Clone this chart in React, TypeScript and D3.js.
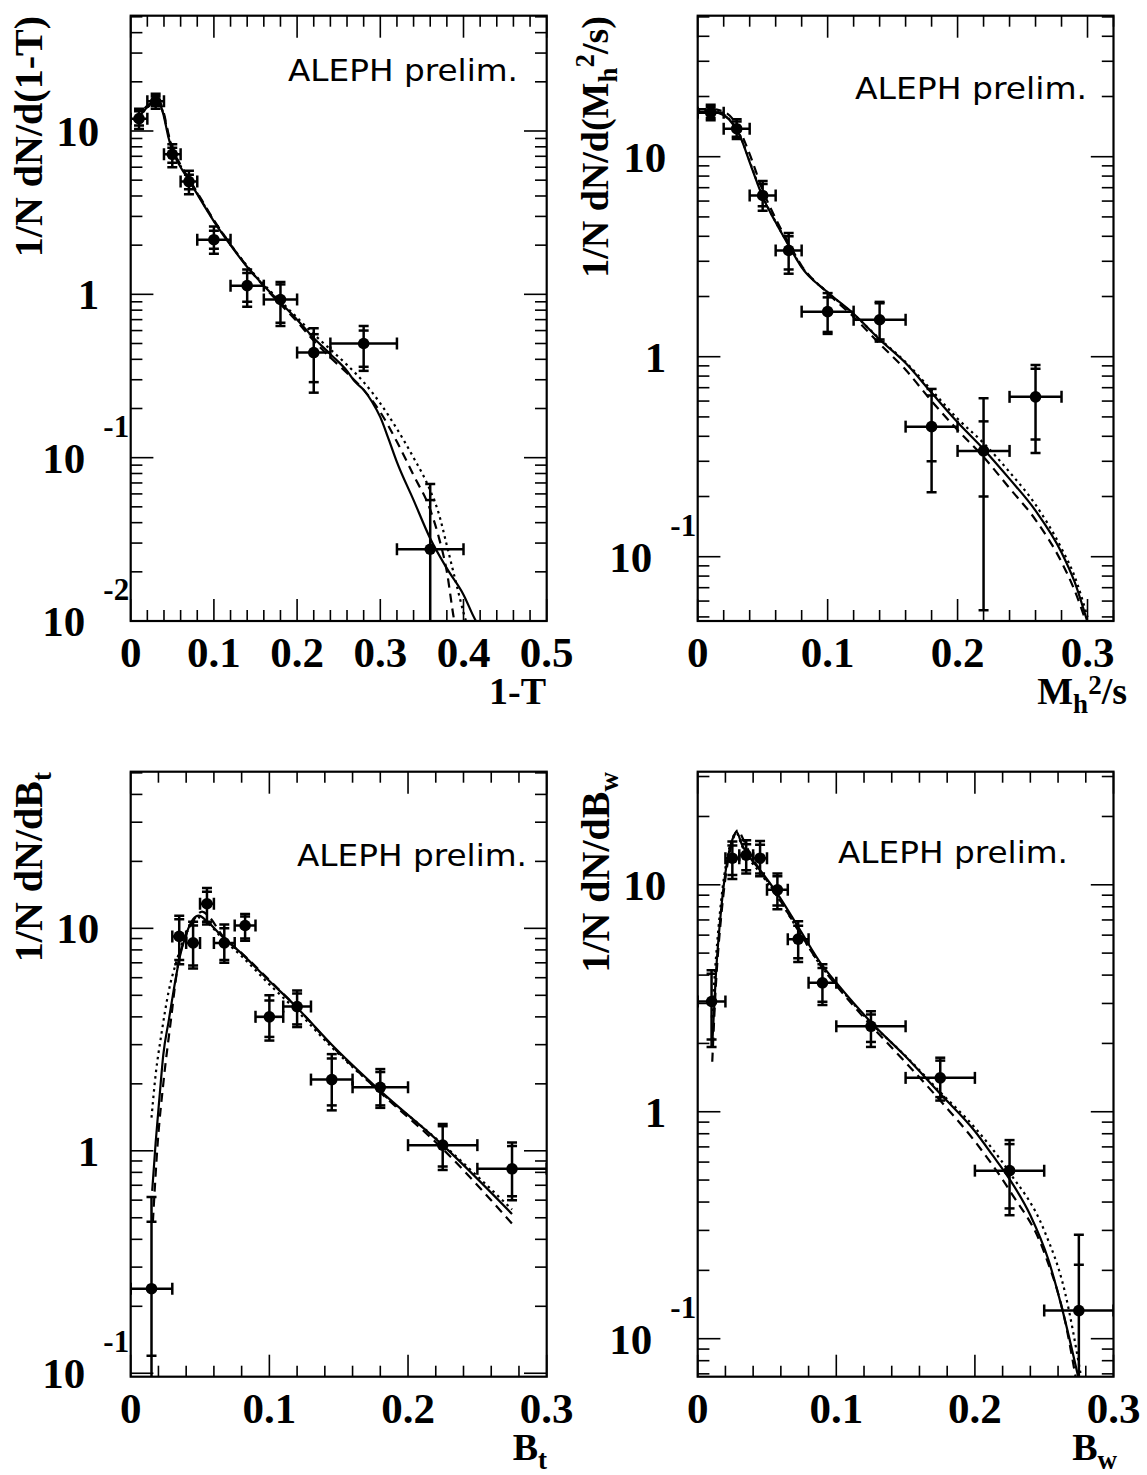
import React from 'react';
import * as d3 from 'd3';

// ---------- DATA ----------
// point rows: [x, xLo, xHi, y, totLo, totHi, statLo, statHi]
const thrustPoints = [
  [0.01, 0.0, 0.02, 11.9, 10.3, 13.7, 10.8, 13.2],
  [0.03, 0.02, 0.04, 15.2, 13.7, 16.9, 14.2, 16.3],
  [0.05, 0.04, 0.06, 7.2, 6.0, 8.3, 6.4, 7.9],
  [0.07, 0.06, 0.08, 4.9, 4.1, 5.7, 4.4, 5.4],
  [0.10, 0.08, 0.12, 2.16, 1.77, 2.6, 1.9, 2.45],
  [0.14, 0.12, 0.16, 1.13, 0.84, 1.42, 0.9, 1.35],
  [0.18, 0.16, 0.20, 0.93, 0.64, 1.19, 0.67, 1.15],
  [0.22, 0.20, 0.24, 0.44, 0.25, 0.62, 0.29, 0.57],
  [0.28, 0.24, 0.32, 0.50, 0.34, 0.64, 0.36, 0.60],
  [0.36, 0.32, 0.40, 0.0275, 0.001, 0.069, 0.005, 0.055],
];
const thrustSolid = [
  [0.004, 11.6], [0.01, 12.3], [0.02, 14.0], [0.03, 15.0], [0.035, 14.6], [0.04, 12.2], [0.045, 9.3],
  [0.05, 7.6], [0.06, 6.0], [0.07, 5.0], [0.08, 4.1], [0.1, 2.8], [0.12, 2.0], [0.14, 1.47], [0.16, 1.13],
  [0.18, 0.89], [0.2, 0.7], [0.22, 0.54], [0.24, 0.43], [0.26, 0.34], [0.27, 0.29], [0.28, 0.26],
  [0.29, 0.22], [0.3, 0.177], [0.31, 0.13], [0.32, 0.094], [0.34, 0.055], [0.36, 0.032], [0.38, 0.021],
  [0.4, 0.0145], [0.415, 0.01], [0.42, 0.0092],
];
const thrustDashed = [
  [0.004, 11.8], [0.01, 12.5], [0.02, 14.3], [0.03, 15.3], [0.035, 15.0], [0.04, 12.8], [0.045, 9.8],
  [0.05, 7.9], [0.06, 6.2], [0.07, 5.1], [0.08, 4.2], [0.1, 2.85], [0.12, 2.02], [0.14, 1.48], [0.16, 1.12],
  [0.18, 0.87], [0.2, 0.68], [0.22, 0.52], [0.24, 0.41], [0.26, 0.33], [0.28, 0.26], [0.3, 0.19],
  [0.32, 0.125], [0.34, 0.078], [0.36, 0.048], [0.37, 0.033], [0.38, 0.02], [0.389, 0.01], [0.392, 0.0085],
];
const thrustDotted = [
  [0.004, 11.5], [0.01, 12.2], [0.02, 13.9], [0.03, 14.9], [0.035, 14.5], [0.04, 12.4], [0.045, 9.6],
  [0.05, 7.8], [0.06, 6.1], [0.07, 5.05], [0.08, 4.15], [0.1, 2.82], [0.12, 2.02], [0.14, 1.49], [0.16, 1.15],
  [0.18, 0.91], [0.2, 0.72], [0.22, 0.57], [0.24, 0.46], [0.26, 0.37], [0.28, 0.29], [0.3, 0.215],
  [0.32, 0.15], [0.34, 0.1], [0.36, 0.063], [0.37, 0.046], [0.38, 0.029], [0.39, 0.018], [0.403, 0.01], [0.406, 0.009],
];
const thrustXTicks = [0, 0.1, 0.2, 0.3, 0.4, 0.5];

const mhPoints = [
  [0.01, 0.0, 0.02, 16.6, 15.2, 18.2, 15.6, 17.7],
  [0.03, 0.02, 0.04, 13.8, 12.25, 15.4, 12.6, 15.0],
  [0.05, 0.04, 0.06, 6.4, 5.37, 7.55, 5.65, 7.3],
  [0.07, 0.06, 0.08, 3.4, 2.6, 4.16, 2.73, 4.0],
  [0.10, 0.08, 0.12, 1.68, 1.3, 2.08, 1.33, 1.98],
  [0.14, 0.12, 0.16, 1.53, 1.19, 1.88, 1.22, 1.85],
  [0.18, 0.16, 0.20, 0.447, 0.21, 0.69, 0.3, 0.64],
  [0.22, 0.20, 0.24, 0.338, 0.054, 0.62, 0.2, 0.475],
  [0.26, 0.24, 0.28, 0.63, 0.33, 0.91, 0.385, 0.87],
];
const mhSolid = [
  [0.0, 16.8], [0.01, 16.8], [0.0155, 16.6], [0.024, 15.4], [0.032, 12.9], [0.041, 9.0], [0.05, 6.3],
  [0.06, 4.7], [0.07, 3.6], [0.08, 2.8], [0.1, 2.1], [0.12, 1.64], [0.14, 1.22], [0.16, 0.93],
  [0.18, 0.66], [0.2, 0.47], [0.22, 0.345], [0.24, 0.245], [0.26, 0.17], [0.28, 0.105], [0.29, 0.075], [0.3, 0.047],
];
const mhDashed = [
  [0.0, 17.3], [0.01, 17.3], [0.02, 16.8], [0.03, 14.5], [0.04, 10.3], [0.05, 6.8], [0.06, 4.9],
  [0.07, 3.7], [0.08, 2.85], [0.1, 2.08], [0.12, 1.58], [0.14, 1.16], [0.16, 0.86], [0.18, 0.6],
  [0.2, 0.43], [0.22, 0.315], [0.24, 0.22], [0.26, 0.153], [0.28, 0.094], [0.29, 0.068], [0.3, 0.045],
];
const mhDotted = [
  [0.0, 16.9], [0.01, 16.9], [0.0155, 16.7], [0.024, 15.5], [0.032, 13.0], [0.041, 9.1], [0.05, 6.35],
  [0.06, 4.72], [0.07, 3.62], [0.08, 2.82], [0.1, 2.1], [0.12, 1.63], [0.14, 1.23], [0.16, 0.94],
  [0.18, 0.68], [0.2, 0.49], [0.22, 0.37], [0.24, 0.265], [0.26, 0.182], [0.28, 0.11], [0.29, 0.08], [0.3, 0.05],
];
const mhXTicks = [0, 0.1, 0.2, 0.3];

const btPoints = [
  [0.015, 0.0, 0.03, 0.24, 0.08, 0.62, 0.12, 0.48],
  [0.035, 0.03, 0.04, 9.2, 6.9, 11.4, 7.2, 11.0],
  [0.045, 0.04, 0.05, 8.6, 6.6, 10.7, 6.8, 10.3],
  [0.055, 0.05, 0.06, 12.9, 10.4, 15.2, 10.7, 14.6],
  [0.0675, 0.06, 0.075, 8.6, 7.0, 10.4, 7.2, 10.0],
  [0.0825, 0.075, 0.09, 10.3, 8.8, 11.6, 9.0, 11.3],
  [0.10, 0.09, 0.11, 4.0, 3.13, 5.0, 3.25, 4.74],
  [0.12, 0.11, 0.13, 4.45, 3.6, 5.25, 3.7, 5.1],
  [0.145, 0.13, 0.16, 2.09, 1.52, 2.72, 1.6, 2.6],
  [0.18, 0.16, 0.20, 1.93, 1.56, 2.33, 1.6, 2.26],
  [0.225, 0.20, 0.25, 1.06, 0.82, 1.32, 0.85, 1.29],
  [0.275, 0.25, 0.30, 0.83, 0.6, 1.09, 0.625, 1.05],
];
const btSolid = [
  [0.0155, 0.66], [0.018, 1.09], [0.021, 1.81], [0.0235, 2.7], [0.0275, 3.87], [0.0315, 5.5],
  [0.0355, 7.5], [0.0395, 9.2], [0.045, 11.0], [0.049, 11.4], [0.0555, 10.7], [0.066, 9.2],
  [0.08, 7.7], [0.1, 5.8], [0.12, 4.4], [0.145, 3.0], [0.18, 1.86], [0.225, 1.06], [0.275, 0.52],
];
const btDashed = [
  [0.016, 0.48], [0.0195, 1.09], [0.0235, 2.0], [0.029, 3.87], [0.034, 6.8], [0.0395, 9.2],
  [0.045, 10.8], [0.0515, 11.9], [0.057, 11.2], [0.066, 9.3], [0.08, 7.75], [0.1, 5.85],
  [0.12, 4.4], [0.145, 2.97], [0.18, 1.83], [0.225, 1.02], [0.275, 0.47],
];
const btDotted = [
  [0.015, 1.41], [0.018, 2.2], [0.022, 3.3], [0.0275, 5.25], [0.033, 7.1], [0.039, 9.2],
  [0.045, 10.7], [0.049, 11.2], [0.0555, 10.6], [0.066, 9.0], [0.08, 7.5], [0.1, 5.6],
  [0.12, 4.25], [0.145, 2.92], [0.18, 1.84], [0.225, 1.07], [0.275, 0.545],
];
const btXTicks = [0, 0.1, 0.2, 0.3];

const bwPoints = [
  [0.01, 0.0, 0.02, 3.06, 1.93, 4.2, 2.08, 4.06],
  [0.025, 0.02, 0.03, 13.1, 10.6, 15.5, 11.05, 14.9],
  [0.035, 0.03, 0.04, 13.5, 11.2, 15.7, 11.6, 15.1],
  [0.045, 0.04, 0.05, 13.1, 10.9, 15.6, 11.2, 15.0],
  [0.0575, 0.05, 0.065, 9.5, 7.8, 11.2, 8.1, 10.9],
  [0.0725, 0.065, 0.08, 5.76, 4.57, 6.9, 4.75, 6.6],
  [0.09, 0.08, 0.10, 3.7, 2.95, 4.46, 3.05, 4.3],
  [0.125, 0.10, 0.15, 2.38, 1.93, 2.77, 2.03, 2.68],
  [0.175, 0.15, 0.20, 1.41, 1.12, 1.73, 1.16, 1.68],
  [0.225, 0.20, 0.25, 0.55, 0.35, 0.75, 0.375, 0.72],
  [0.275, 0.25, 0.30, 0.133, 0.03, 0.287, 0.05, 0.212],
];
const bwSolid = [
  [0.0106, 2.03], [0.013, 3.9], [0.017, 7.9], [0.021, 12.4], [0.025, 15.8], [0.028, 17.1],
  [0.0318, 15.1], [0.0384, 13.0], [0.0455, 11.5], [0.0577, 9.1], [0.0733, 6.4], [0.09, 4.4],
  [0.1, 3.7], [0.125, 2.48], [0.15, 1.75], [0.175, 1.2], [0.2, 0.82], [0.213, 0.64],
  [0.2245, 0.51], [0.24, 0.35], [0.253, 0.223], [0.263, 0.135], [0.275, 0.066],
];
const bwDashed = [
  [0.0105, 1.66], [0.013, 3.5], [0.017, 7.3], [0.021, 11.8], [0.025, 15.5], [0.029, 17.4],
  [0.033, 15.8], [0.038, 13.6], [0.045, 11.6], [0.0577, 8.9], [0.0733, 6.2], [0.09, 4.3],
  [0.1, 3.6], [0.125, 2.4], [0.15, 1.65], [0.175, 1.12], [0.2, 0.74], [0.225, 0.45],
  [0.25, 0.24], [0.265, 0.12], [0.273, 0.066],
];
const bwDotted = [
  [0.0102, 2.6], [0.013, 4.6], [0.017, 8.6], [0.021, 12.9], [0.025, 16.0], [0.028, 16.9],
  [0.0318, 14.9], [0.0384, 12.7], [0.0455, 11.2], [0.0577, 8.8], [0.0733, 6.2], [0.09, 4.3],
  [0.1, 3.65], [0.125, 2.46], [0.15, 1.76], [0.175, 1.22], [0.2, 0.85], [0.225, 0.54],
  [0.25, 0.3], [0.265, 0.16], [0.277, 0.066],
];
const bwXTicks = [0, 0.1, 0.2, 0.3];

const alephLabel = 'ALEPH prelim.';

// ---------- STYLE ----------
const SERIF = '"Liberation Serif", "Times New Roman", Times, serif';
const SANS = '"DejaVu Sans", "Liberation Sans", sans-serif';
const TICK_FS = 43;
const EXP_FS = 31;
const TITLE_FS = 38;
const SUB_FS = 27;

type Row = number[];
interface PanelCfg {
  id: string;
  left: number; right: number; top: number; bottom: number;
  xMax: number; yMin: number; yMax: number;
  xTicks: number[];
  points: Row[]; solid: Row[]; dashed: Row[]; dotted: Row[];
  aleph: { x: number; y: number; len: number };
  xTitle: { x: number; y: number; node: React.ReactNode };
  yTitle: { x: number; y: number; fs: number; node: React.ReactNode };
}

const sub = (s: string, dy = 9) => (
  <tspan dy={dy} fontSize={SUB_FS}>{s}</tspan>
);

const panels: PanelCfg[] = [
  {
    id: 'thrust', left: 130.7, right: 546.7, top: 15.7, bottom: 621,
    xMax: 0.5, yMin: 0.01, yMax: 50.8, xTicks: thrustXTicks,
    points: thrustPoints, solid: thrustSolid, dashed: thrustDashed, dotted: thrustDotted,
    aleph: { x: 288, y: 81, len: 230 },
    xTitle: { x: 546, y: 704, node: <tspan>1-T</tspan> },
    yTitle: { x: 42, y: 16, fs: 40, node: <tspan>1/N dN/d(1-T)</tspan> },
  },
  {
    id: 'mh', left: 697.7, right: 1113.5, top: 15.7, bottom: 621,
    xMax: 0.32, yMin: 0.0477, yMax: 50.7, xTicks: mhXTicks,
    points: mhPoints, solid: mhSolid, dashed: mhDashed, dotted: mhDotted,
    aleph: { x: 855, y: 99, len: 232 },
    xTitle: {
      x: 1127, y: 704,
      node: (<>
        <tspan>M</tspan>
        <tspan dy={9} fontSize={SUB_FS}>h</tspan>
        <tspan dy={-19} fontSize={SUB_FS}>2</tspan>
        <tspan dy={10}>/s</tspan>
      </>),
    },
    yTitle: {
      x: 608, y: 16, fs: 38,
      node: (<>
        <tspan>1/N dN/d(M</tspan>
        <tspan dy={9} fontSize={SUB_FS}>h</tspan>
        <tspan dy={-23} fontSize={SUB_FS}>2</tspan>
        <tspan dy={14}>/s)</tspan>
      </>),
    },
  },
  {
    id: 'bt', left: 130.7, right: 546.7, top: 771.7, bottom: 1376.7,
    xMax: 0.3, yMin: 0.0965, yMax: 50.6, xTicks: btXTicks,
    points: btPoints, solid: btSolid, dashed: btDashed, dotted: btDotted,
    aleph: { x: 297, y: 866, len: 230 },
    xTitle: { x: 547, y: 1460, node: (<><tspan>B</tspan>{sub('t')}</>) },
    yTitle: { x: 42, y: 772, fs: 40, node: (<><tspan>1/N dN/dB</tspan>{sub('t')}</>) },
  },
  {
    id: 'bw', left: 697.7, right: 1113.5, top: 771.7, bottom: 1376.7,
    xMax: 0.3, yMin: 0.068, yMax: 31.5, xTicks: bwXTicks,
    points: bwPoints, solid: bwSolid, dashed: bwDashed, dotted: bwDotted,
    aleph: { x: 838, y: 863, len: 230 },
    xTitle: { x: 1117, y: 1460, node: (<><tspan>B</tspan>{sub('w')}</>) },
    yTitle: { x: 609, y: 772, fs: 40, node: (<><tspan>1/N dN/dB</tspan>{sub('w')}</>) },
  },
];

function Panel({ p }: { p: PanelCfg }) {
  const x = d3.scaleLinear().domain([0, p.xMax]).range([p.left, p.right]);
  const y = d3.scaleLog().domain([p.yMin, p.yMax]).range([p.bottom, p.top]);
  const clipId = `clip-${p.id}`;
  const line = d3
    .line<Row>()
    .x((d) => x(d[0]))
    .y((d) => y(d[1]))
    .curve(d3.curveMonotoneX);

  // x ticks
  const step = 0.02;
  const nMinor = Math.floor(p.xMax / step + 1e-6);
  const xMinor = d3.range(0, nMinor + 1).map((i) => +(i * step).toFixed(4))
    .filter((v) => !p.xTicks.some((t) => Math.abs(t - v) < 1e-6));

  // y ticks (log)
  const lo = Math.floor(Math.log10(p.yMin));
  const hi = Math.ceil(Math.log10(p.yMax));
  const yMajor: number[] = [];
  const yMinor: number[] = [];
  for (let dd = lo; dd <= hi; dd++) {
    for (let k = 1; k <= 9; k++) {
      const v = k * Math.pow(10, dd);
      if (v >= p.yMin * 0.999 && v <= p.yMax * 1.001) (k === 1 ? yMajor : yMinor).push(v);
    }
  }

  const W = p.right - p.left;
  const H = p.bottom - p.top;
  const xMajLen = 22, xMinLen = 11, yMajLen = 22.7, yMinLen = 11.7;
  const tickStroke = { stroke: '#000', strokeWidth: 1.6 };

  const capW = 5;
  const capH = 6;

  return (
    <g>
      <defs>
        <clipPath id={clipId}>
          <rect x={p.left} y={p.top} width={W} height={H} />
        </clipPath>
      </defs>

      {/* x ticks bottom & top */}
      {p.xTicks.map((t) => (
        <g key={`xM${t}`}>
          <line x1={x(t)} x2={x(t)} y1={p.bottom} y2={p.bottom - xMajLen} {...tickStroke} />
          <line x1={x(t)} x2={x(t)} y1={p.top} y2={p.top + xMajLen} {...tickStroke} />
        </g>
      ))}
      {xMinor.map((t) => (
        <g key={`xm${t}`}>
          <line x1={x(t)} x2={x(t)} y1={p.bottom} y2={p.bottom - xMinLen} {...tickStroke} />
          <line x1={x(t)} x2={x(t)} y1={p.top} y2={p.top + xMinLen} {...tickStroke} />
        </g>
      ))}
      {/* y ticks left & right */}
      {yMajor.map((v) => (
        <g key={`yM${v}`}>
          <line x1={p.left} x2={p.left + yMajLen} y1={y(v)} y2={y(v)} {...tickStroke} />
          <line x1={p.right} x2={p.right - yMajLen} y1={y(v)} y2={y(v)} {...tickStroke} />
        </g>
      ))}
      {yMinor.map((v) => (
        <g key={`ym${v}`}>
          <line x1={p.left} x2={p.left + yMinLen} y1={y(v)} y2={y(v)} {...tickStroke} />
          <line x1={p.right} x2={p.right - yMinLen} y1={y(v)} y2={y(v)} {...tickStroke} />
        </g>
      ))}

      {/* frame */}
      <rect x={p.left} y={p.top} width={W} height={H} fill="none" stroke="#000" strokeWidth={2.2} />

      {/* x tick labels */}
      {p.xTicks.map((t) => (
        <text key={`xl${t}`} x={x(t)} y={p.bottom + 46} textAnchor="middle"
          fontFamily={SERIF} fontWeight="bold" fontSize={TICK_FS}>
          {t === 0 ? '0' : t.toFixed(1)}
        </text>
      ))}
      {/* y tick labels */}
      {yMajor.map((v) => {
        const e = Math.round(Math.log10(v));
        if (e >= 0) {
          return (
            <text key={`yl${v}`} x={p.left - 31.5} y={y(v) + 15} textAnchor="end"
              fontFamily={SERIF} fontWeight="bold" fontSize={TICK_FS}>
              {String(Math.round(v))}
            </text>
          );
        }
        return (
          <g key={`yl${v}`}>
            <text x={p.left - 45.5} y={y(v) + 15} textAnchor="end"
              fontFamily={SERIF} fontWeight="bold" fontSize={TICK_FS}>10</text>
            <text x={p.left - 1.5} y={y(v) - 21} textAnchor="end"
              fontFamily={SERIF} fontWeight="bold" fontSize={EXP_FS}>{String(e)}</text>
          </g>
        );
      })}

      {/* curves */}
      <g clipPath={`url(#${clipId})`} fill="none" stroke="#000">
        <path d={line(p.dotted) || ''} strokeWidth={2.2} strokeDasharray="2.5,4" />
        <path d={line(p.dashed) || ''} strokeWidth={2.2} strokeDasharray="9,6" />
        <path d={line(p.solid) || ''} strokeWidth={2.2} />
      </g>

      {/* data points with errors */}
      <g clipPath={`url(#${clipId})`} stroke="#000" strokeWidth={2.5}>
        {p.points.map((r, i) => {
          const [px, xl, xh, py, tl, th, sl, sh] = r;
          const cx = x(px), cy = y(py);
          return (
            <g key={`pt${i}`}>
              <line x1={cx} x2={cx} y1={y(tl)} y2={y(th)} />
              {[tl, th, sl, sh].map((v, j) => (
                <line key={j} x1={cx - capW} x2={cx + capW} y1={y(v)} y2={y(v)} />
              ))}
              <line x1={x(xl)} x2={x(xh)} y1={cy} y2={cy} />
              <line x1={x(xl)} x2={x(xl)} y1={cy - capH} y2={cy + capH} />
              <line x1={x(xh)} x2={x(xh)} y1={cy - capH} y2={cy + capH} />
              <circle cx={cx} cy={cy} r={5.8} fill="#000" stroke="none" />
            </g>
          );
        })}
      </g>

      {/* ALEPH label */}
      <text x={p.aleph.x} y={p.aleph.y} fontFamily={SANS} fontSize={31}
        textLength={p.aleph.len} lengthAdjust="spacingAndGlyphs">{alephLabel}</text>

      {/* axis titles */}
      <text x={p.xTitle.x} y={p.xTitle.y} textAnchor="end" fontFamily={SERIF}
        fontWeight="bold" fontSize={TITLE_FS}>{p.xTitle.node}</text>
      <text transform={`translate(${p.yTitle.x},${p.yTitle.y}) rotate(-90)`} textAnchor="end"
        fontFamily={SERIF} fontWeight="bold" fontSize={p.yTitle.fs}>{p.yTitle.node}</text>
    </g>
  );
}

export default function App() {
  return (
    <svg width={1147} height={1475} viewBox="0 0 1147 1475"
      style={{ position: 'absolute', left: 0, top: 0, background: '#fff' }}>
      <rect x={0} y={0} width={1147} height={1475} fill="#fff" />
      {panels.map((p) => (
        <Panel key={p.id} p={p} />
      ))}
    </svg>
  );
}
